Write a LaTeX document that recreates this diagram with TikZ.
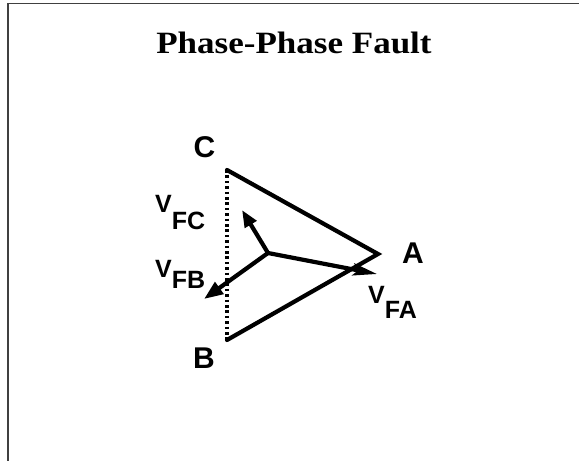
\documentclass[tikz,border=0pt]{standalone}
\usepackage{fontspec}
\setmainfont{Liberation Serif}
\newfontfamily\labfont{Liberation Sans}
\newfontfamily\titlefont[FakeStretch=1.13]{Liberation Serif}
\usetikzlibrary{arrows.meta}
\begin{document}
\begin{tikzpicture}[x=1pt,y=-1pt,
  frameline/.style={line width=1.5pt,draw=black!75},
  side/.style={line width=4.2pt,line cap=round,line join=miter},
  phasor/.style={line width=4.2pt},
  dotline/.style={line width=3.4pt,dash pattern=on 2.6pt off 2.8pt},
  vertexlabel/.style={font=\labfont\bfseries\fontsize{30}{30}\selectfont,inner sep=0pt,anchor=base west},
  vlabel/.style={font=\labfont\bfseries\fontsize{25}{25}\selectfont,inner sep=0pt,anchor=base west}]
\useasboundingbox (0,0) rectangle (579,461);
% frame
\coordinate (f0) at (8,461);
\coordinate (f1) at (8,3.5);
\coordinate (f2) at (579,3.5);
\draw[frameline] (f0) -- (f1) -- (f2);
% title
\node[font=\titlefont\bfseries\fontsize{31}{31}\selectfont,inner sep=0pt,anchor=base] (title) at (294,53) {Phase-Phase Fault};
% vertices
\coordinate (C) at (227,170);
\coordinate (A) at (378,254);
\coordinate (B) at (227,340);
\coordinate (N) at (268,253);
\coordinate (tc) at (242,210);
\coordinate (tb) at (204,299);
\coordinate (ta) at (377,274);
\draw[dotline] (C) -- (B);
\draw[side] (C) -- (A) -- (B);
\draw[phasor,-{Triangle[length=17pt,width=13pt]}] (N) -- (tc);
\draw[phasor,-{Triangle[length=19pt,width=14pt]}] (N) -- (tb);
\draw[phasor,-{Stealth[length=24pt,width=12pt,inset=5pt]}] (N) -- (ta);
% labels
\node[vertexlabel] (lc) at (193.5,157) {C};
\node[vertexlabel] (la) at (402,263) {A};
\node[vertexlabel] (lb) at (193,368) {B};
\node[vlabel] (lfc) at (155,212) {V\lower17pt\hbox{FC}};
\node[vlabel] (lfb) at (155,277) {V\lower11pt\hbox{FB}};
\node[vlabel] (lfa) at (368,303) {V\lower15pt\hbox{FA}};
\end{tikzpicture}
\end{document}
